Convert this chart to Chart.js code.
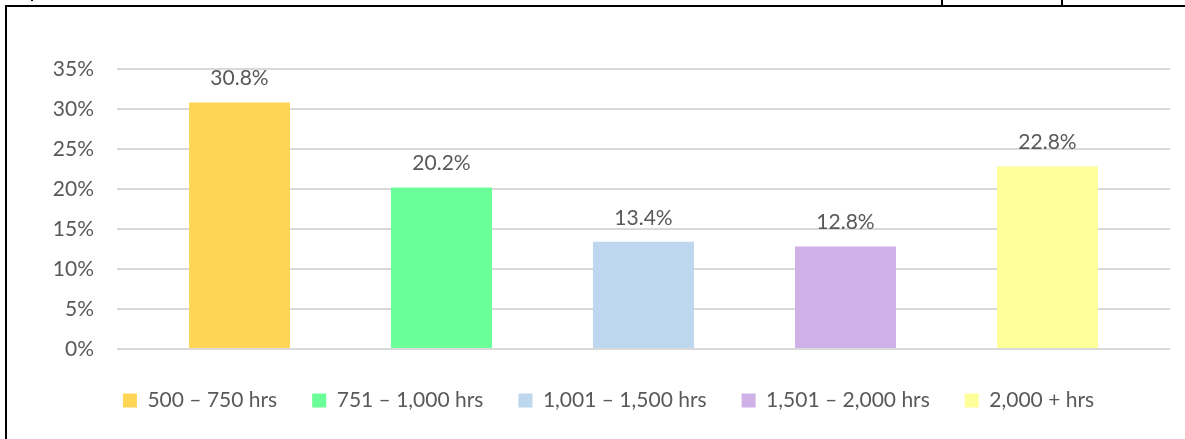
<!DOCTYPE html>
<html>
<head>
<meta charset="utf-8">
<script src="https://cdn.jsdelivr.net/npm/chart.js@4/dist/chart.umd.min.js"></script>
<style>
  html, body { margin: 0; padding: 0; background: #fff; }
  #wrap { position: relative; width: 1185px; height: 439px; overflow: hidden; }
  #hoursChart { position: absolute; left: 0; top: 0; }
  .rule { position: absolute; background: #000; }
</style>
</head>
<body>
<div id="wrap">
  <canvas id="hoursChart" width="1185" height="439"></canvas>
  <!-- table cell borders around the chart -->
  <div class="rule" style="left:5px; top:5px; width:2px; height:434px;"></div>
  <div class="rule" style="left:5px; top:5px; width:1180px; height:2px;"></div>
  <div class="rule" style="left:941px; top:0; width:2px; height:6px;"></div>
  <div class="rule" style="left:1061px; top:0; width:2px; height:6px;"></div>
  <div class="rule" style="left:31px; top:0; width:2px; height:1px;"></div>
</div>
<script>
// Chart data
const hourBands = ['500 \u2013 750 hrs', '751 \u2013 1,000 hrs', '1,001 \u2013 1,500 hrs', '1,501 \u2013 2,000 hrs', '2,000 + hrs'];
const sharePct = [30.8, 20.2, 13.4, 12.8, 22.8];
const bandColors = ['#FFD556', '#6BFF99', '#BDD7EE', '#CFB0E7', '#FFFF99'];
const yTicks = [0, 5, 10, 15, 20, 25, 30, 35];

const textColor = '#595959';
const fontFamily = 'Lato, Carlito, Calibri, sans-serif';

// Value labels above each bar
const barLabels = {
    id: 'barLabels',
    afterDatasetsDraw(chart) {
        const ctx = chart.ctx;
        const meta = chart.getDatasetMeta(0);
        ctx.save();
        ctx.font = '21px ' + fontFamily;
        ctx.fillStyle = textColor;
        ctx.textAlign = 'center';
        ctx.textBaseline = 'middle';
        meta.data.forEach((bar, i) => {
            ctx.fillText(sharePct[i].toFixed(1) + '%', bar.x, bar.y - 24);
        });
        ctx.restore();
    }
};

// bars sit on a linear x scale so the plot keeps a little room beyond the outer categories
const ctx = document.getElementById('hoursChart').getContext('2d');
new Chart(ctx, {
    type: 'bar',
    data: {
        datasets: [{
            data: sharePct.map((v, i) => ({ x: i, y: v })),
            backgroundColor: bandColors,
            borderWidth: 0,
            categoryPercentage: 1,
            barPercentage: 0.5
        }]
    },
    options: {
        responsive: false,
        animation: false,
        events: [],
        layout: { padding: { left: 47, right: 15, top: 69, bottom: 18 } },
        scales: {
            x: {
                type: 'linear',
                offset: false,
                min: -0.6064,
                max: hourBands.length - 1 + 0.6064,
                afterBuildTicks(scale) { scale.ticks = hourBands.map((b, i) => ({ value: i })); },
                ticks: { display: false },
                grid: { display: false, offset: false },
                border: { display: false },
                afterFit(scale) { scale.height = 6; }
            },
            y: {
                min: 0,
                max: 35,
                afterBuildTicks(scale) { scale.ticks = yTicks.map(v => ({ value: v })); },
                afterFit(scale) { scale.width = 70; },
                ticks: {
                    padding: 23,
                    color: textColor,
                    font: { family: fontFamily, size: 21 },
                    callback: v => v + '%'
                },
                grid: { color: '#D9D9D9', lineWidth: 2, drawTicks: false },
                border: { display: false }
            }
        },
        plugins: {
            tooltip: { enabled: false },
            legend: {
                position: 'bottom',
                onClick: null,
                labels: {
                    boxWidth: 14,
                    boxHeight: 14,
                    padding: 35,
                    color: textColor,
                    font: { family: fontFamily, size: 21 },
                    generateLabels: chart => hourBands.map((label, i) => ({
                        text: label,
                        fillStyle: bandColors[i],
                        strokeStyle: bandColors[i],
                        lineWidth: 0,
                        fontColor: textColor,
                        hidden: false,
                        index: i
                    }))
                }
            }
        }
    },
    plugins: [barLabels]
});
</script>
</body>
</html>
